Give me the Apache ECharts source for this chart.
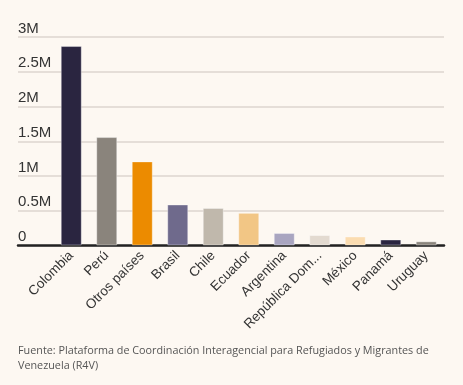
<!DOCTYPE html>
<html><head><meta charset="utf-8">
<script src="https://cdn.jsdelivr.net/npm/echarts@6/dist/echarts.min.js"></script>
<style>html,body{margin:0;padding:0;background:#fdf8f2}#c{width:463px;height:385px}</style>
</head><body><div id="c"></div>
<script>
const categories = ['Colombia','Perú','Otros países','Brasil','Chile','Ecuador','Argentina','República Dominicana','México','Panamá','Uruguay'];
const values = [2870000,1560000,1210000,590000,540000,470000,180000,150000,130000,86000,60000];
const barColors = ['#2a2540','#8a847c','#ec8b00','#6f6a8c','#c0b8ac','#f2c685','#a9a5c0','#e3dad0','#fbdcb0','#2a2540','#8a847c'];
const yTicks = ['0','0.5M','1M','1.5M','2M','2.5M','3M'];
const source = 'Fuente: Plataforma de Coordinación Interagencial para Refugiados y Migrantes de\nVenezuela (R4V)';

const chart = echarts.init(document.getElementById('c'));
chart.setOption({
  backgroundColor: '#fdf8f2',
  animation: false,
  grid: {left: 18, right: 19, top: 37, bottom: 139.5, containLabel: false},
  xAxis: {
    type: 'category',
    data: [''].concat(categories),
    axisLine: {lineStyle: {color: '#222', width: 2.5}},
    axisTick: {show: false},
    axisLabel: {
      interval: 0, rotate: 45, margin: 8, color: '#333', fontSize: 13.5,
      fontFamily: 'Liberation Sans, Arial, sans-serif',
      formatter: v => v.length > 14 ? v.slice(0, 13) + '...' : v
    }
  },
  yAxis: {
    type: 'value', min: 0, max: 3000000, interval: 500000,
    axisLine: {show: false}, axisTick: {show: false},
    splitLine: {lineStyle: {color: '#dcd6cf', width: 1.5}},
    axisLabel: {
      inside: true, margin: 0, verticalAlign: 'bottom', padding: [0,0,1,0],
      color: '#333', fontSize: 15, fontFamily: 'Liberation Sans, Arial, sans-serif',
      formatter: (v) => yTicks[Math.round(v / 500000)]
    }
  },
  series: [{
    type: 'bar',
    barWidth: 21,
    data: [null].concat(values.map((v, i) => ({value: v, itemStyle: {color: barColors[i]}}))),
    itemStyle: {borderColor: 'rgba(255,255,255,0.35)', borderWidth: 1}
  }],
  graphic: [{
    type: 'text', left: 18, top: 343,
    style: {text: source, fill: '#555', fontSize: 10.8, lineHeight: 15, fontFamily: 'Open Sans, sans-serif'}
  }]
});
</script></body></html>
